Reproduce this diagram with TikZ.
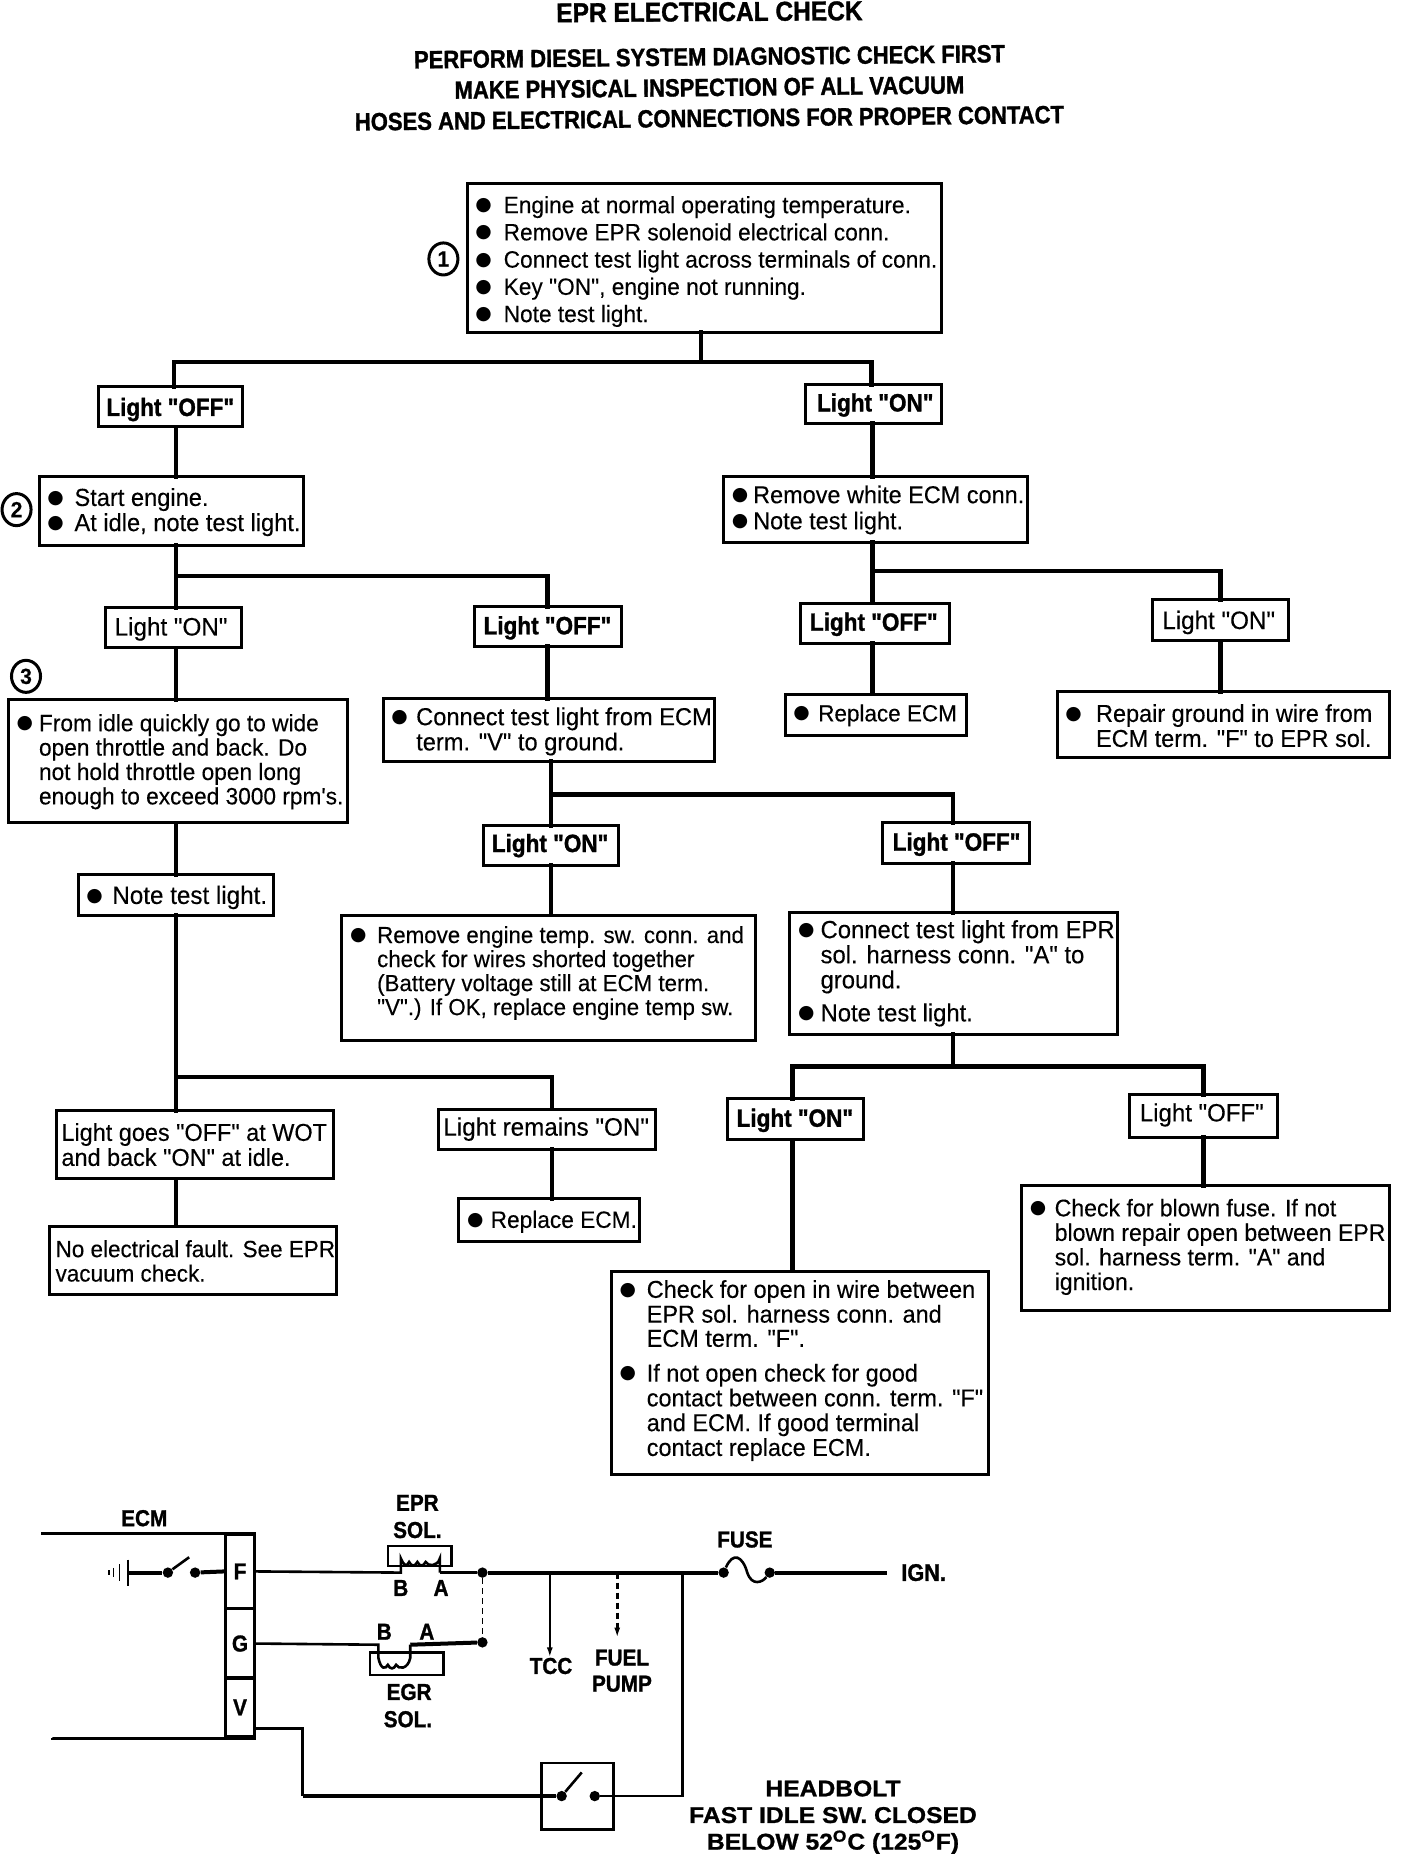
\documentclass[tikz,border=0pt]{standalone}
\usepackage{fontspec}
\newfontfamily\bodyf{Liberation Sans}[FakeStretch=0.96,FakeBold=0.25]
\newfontfamily\hd{Liberation Sans Bold}[FakeStretch=0.88,FakeBold=1.2]
\newfontfamily\hdw{Liberation Sans Bold}[FakeStretch=0.9,FakeBold=1.2]
\newfontfamily\hdx{Liberation Sans Bold}[FakeStretch=1.08,FakeBold=1]
\newfontfamily\djvf{DejaVu Sans}
\usetikzlibrary{shapes.geometric,arrows.meta}
\newlength\unitu \setlength\unitu{0.5906pt}
\newcommand\bul{\makebox[0pt][c]{\raisebox{1.3pt}{\djvf\fontsize{9.4}{9}\selectfont ●}}}
\def\txi{0}
\def\vsh{1.2pt}
% bullet hung to the left of the text column, centred 14 units from the box edge
\newcommand\bl{\makebox[0pt][r]{\bul\hspace{\dimexpr\txi\unitu-14\unitu\relax}}}
\newcommand\lab[1]{{\hdw\fontsize{12.5}{13}\selectfont #1}}
\tikzset{
  x=0.5906pt,y=-0.5906pt,
  boxsh/.style={draw,line width=1.5pt,inner sep=0pt,outer sep=0pt,font=\bodyf},
  conn/.style={line width=2.3pt,line cap=rect},
  wire/.style={line width=1.3pt},
  hwire/.style={line width=2pt},
  head/.style={font=\hd\fontsize{12.5}{13}\selectfont,rotate=0.6,inner sep=0pt},
  ttl/.style={font=\hdw\fontsize{13.6}{14}\selectfont,rotate=0.4,inner sep=0pt},
  sch/.style={font=\hdw\fontsize{11.5}{12}\selectfont,inner sep=0pt},
  dotn/.style={circle,fill,inner sep=0pt,minimum size=5.2pt},
  num/.style={draw,line width=1.5pt,ellipse,inner sep=0pt,minimum width=14.5pt,minimum height=16pt,font=\bodyf\bfseries\fontsize{11}{12}\selectfont},
  strip/.style={draw,line width=1.5pt,minimum width={24*0.5906pt},inner sep=0pt,sch},
}
% \bx{name}{x1}{y1}{x2}{y2}{size}{leading}{text indent}{lines}; \vsh lowers the text, and is reset after each box
\newcommand\bx[9]{\def\txi{#8}\pgfmathsetlengthmacro\bw{(#4-#2)*0.5906pt}\pgfmathsetlengthmacro\bh{(#5-#3)*0.5906pt}%
\node[boxsh,anchor=north west,minimum width=\bw,minimum height=\bh] (#1) at (#2,#3) {\makebox[\bw][l]{\fontsize{#6}{#7}\selectfont\raisebox{-\vsh}[\height][\depth]{\begin{tabular}{@{\hspace{#8\unitu}}l@{}}#9\end{tabular}}}};\def\vsh{1.2pt}}
\begin{document}
\begin{tikzpicture}
\useasboundingbox (0,0) rectangle (1191,1568);
\node[ttl] (t0) at (600,10) {EPR ELECTRICAL CHECK};
\node[head] (t1) at (600,48) {PERFORM DIESEL SYSTEM DIAGNOSTIC CHECK FIRST};
\node[head] (t2) at (600,74) {MAKE PHYSICAL INSPECTION OF ALL VACUUM};
\node[head] (t3) at (600,100) {HOSES AND ELECTRICAL CONNECTIONS FOR PROPER CONTACT};
% boxes
\def\vsh{2.2pt}
\bx{b1}{395}{155}{796}{281}{11.8}{13.6}{31}{\bl Engine at normal operating temperature.\\\bl Remove EPR solenoid electrical conn.\\\bl Connect test light across terminals of conn.\\\bl Key "ON", engine not running.\\\bl Note test light.}
\node[num] (n1) at (375,219) {1};
\def\vsh{2pt}
\bx{l1off}{83}{327}{205}{361}{12}{13}{7}{\lab{Light "OFF"}}
\bx{l1on}{681}{325}{796}{358}{12}{13}{10}{\lab{Light "ON"}}
\bx{b2}{33}{403}{257}{461}{12.3}{12.1}{30}{\bl Start engine.\\\bl At idle, note test light.}
\node[num] (n2) at (14,431) {2};
\def\vsh{0.7pt}
\bx{b3}{612}{403}{869}{459}{12.2}{13}{25}{\bl Remove white ECM conn.\\\bl Note test light.}
\bx{l2on}{89}{514}{204}{548}{12.6}{13}{8}{Light "ON"}
\bx{l2off}{401}{513}{526}{547}{12}{13}{8}{\lab{Light "OFF"}}
\bx{l3off}{677}{510}{803}{544}{12}{13}{8}{\lab{Light "OFF"}}
\def\vsh{1.8pt}
\bx{l3on}{975}{507}{1090}{542}{12.6}{13}{8}{Light "ON"}
\node[num] (n3) at (22,572) {3};
\def\vsh{0.7pt}
\bx{b4}{7}{592}{294}{696}{11.8}{12.1}{26}{\bl From idle quickly go to wide\\open throttle and back. Do\\not hold throttle open long\\enough to exceed 3000 rpm's.}
\bx{b5}{324}{591}{604}{644}{12.3}{12.2}{28}{\bl Connect test light from ECM\\term. "V" to ground.}
\def\vsh{0.7pt}
\bx{b6}{664}{587}{817}{622}{11.7}{13}{28}{\bl Replace ECM}
\def\vsh{2.2pt}
\bx{b7}{894}{585}{1175}{641}{12.2}{12.2}{33}{\bl Repair ground in wire from\\ECM term. "F" to EPR sol.}
\def\vsh{0.7pt}
\bx{l4on}{409}{698}{523}{732}{12}{13}{7}{\lab{Light "ON"}}
\bx{l4off}{746}{696}{871}{730}{12}{13}{9}{\lab{Light "OFF"}}
\def\vsh{1.8pt}
\bx{b8}{66}{740}{231}{774}{12.6}{13}{29}{\bl Note test light.}
\def\vsh{-1.8pt}
\bx{b9}{289}{774}{639}{880}{11.6}{12}{30}{\bl Remove engine temp. sw. conn. and\\check for wires shorted together\\(Battery voltage still at ECM term.\\"V".) If OK, replace engine temp sw.}
\def\vsh{0.3pt}
\bx{b10}{668}{772}{945}{875}{12.4}{11.8}{26}{\bl Connect test light from EPR\\sol. harness conn. "A" to\\ground.\\[4pt]\bl Note test light.}
\bx{l5on}{615}{929}{730}{964}{12}{13}{8}{\lab{Light "ON"}}
\def\vsh{0pt}
\bx{l5off}{955}{926}{1080}{962}{12.5}{13}{9}{Light "OFF"}
\def\vsh{1.8pt}
\bx{l6}{48}{939}{282}{997}{12.2}{12.2}{4}{Light goes "OFF" at WOT\\and back "ON" at idle.}
\def\vsh{0.6pt}
\bx{l7}{371}{938}{554}{972}{12.6}{13}{4}{Light remains "ON"}
\def\vsh{2pt}
\bx{b11}{42}{1037}{285}{1095}{11.7}{12.2}{5}{No electrical fault. See EPR\\vacuum check.}
\bx{b12}{388}{1014}{541}{1050}{11.8}{13}{27}{\bl Replace ECM.}
\def\vsh{-0.6pt}
\bx{b13}{517}{1075}{836}{1247}{12.2}{11.8}{30}{\bl Check for open in wire between\\EPR sol. harness conn. and\\ECM term. "F".\\[5pt]\bl If not open check for good\\contact between conn. term. "F"\\and ECM. If good terminal\\contact replace ECM.}
\def\vsh{0pt}
\bx{b14}{864}{1003}{1175}{1108}{12}{11.9}{28}{\bl Check for blown fuse. If not\\blown repair open between EPR\\sol. harness term. "A" and\\ignition.}
% connectors
\coordinate (j1) at (593,306);
\draw[conn] (b1.south -| j1) -- (j1);
\coordinate (j1l) at (147,306); \coordinate (j1r) at (737,306);
\draw[conn] (l1off.north -| j1l) -- (j1l) -- (j1r) -- (l1on.north -| j1r);
\coordinate (v2) at (149,400);
\draw[conn] (l1off.south -| v2) -- (b2.north -| v2);
\coordinate (j2) at (149,487); \coordinate (j2r) at (463,487);
\draw[conn] (b2.south -| j2) -- (l2on.north -| j2);
\draw[conn] (j2) -- (j2r) -- (l2off.north -| j2r);
\draw[conn] (l2on.south -| j2) -- (b4.north -| j2);
\draw[conn] (l2off.south -| j2r) -- (b5.north -| j2r);
\coordinate (j3) at (738,483); \coordinate (j3r) at (1032,483);
\draw[conn] (l1on.south -| j3) -- (b3.north -| j3);
\draw[conn] (b3.south -| j3) -- (l3off.north -| j3);
\draw[conn] (j3) -- (j3r) -- (l3on.north -| j3r);
\draw[conn] (l3off.south -| j3) -- (b6.north -| j3);
\draw[conn] (l3on.south -| j3r) -- (b7.north -| j3r);
\coordinate (j4) at (466,672); \coordinate (j4r) at (806,672);
\draw[conn] (b5.south -| j4) -- (l4on.north -| j4);
\draw[conn] (j4) -- (j4r) -- (l4off.north -| j4r);
\draw[conn] (l4on.south -| j4) -- (b9.north -| j4);
\draw[conn] (l4off.south -| j4r) -- (b10.north -| j4r);
\coordinate (j5) at (149,911); \coordinate (j5r) at (467,911);
\draw[conn] (b4.south -| j5) -- (b8.north -| j5);
\draw[conn] (b8.south -| j5) -- (l6.north -| j5);
\draw[conn] (j5) -- (j5r) -- (l7.north -| j5r);
\draw[conn] (l6.south -| j5) -- (b11.north -| j5);
\draw[conn] (l7.south -| j5r) -- (b12.north -| j5r);
\coordinate (j6) at (806,902); \coordinate (j6l) at (670,902); \coordinate (j6r) at (1018,902);
\draw[conn] (b10.south -| j6) -- (j6);
\draw[conn] (l5on.north -| j6l) -- (j6l) -- (j6r) -- (l5off.north -| j6r);
\draw[conn] (l5on.south -| j6l) -- (b13.north -| j6l);
\draw[conn] (l5off.south -| j6r) -- (b14.north -| j6r);
% schematic: ECM connector
\node[strip,minimum height={62*0.5906pt}] (F) at (203,1329) {F};
\node[strip,minimum height={59*0.5906pt}] (G) at (203,1390) {G};
\node[strip,minimum height={50*0.5906pt}] (V) at (203,1444) {V};
\node[sch] (ecm) at (122,1284) {ECM};
\coordinate (et) at (36,1298); \coordinate (eb) at (44,1470);
\draw[line width=1.5pt] (et) -- (F.north west -| et) -- (F.north east);
\draw[line width=1.5pt] (eb) -- (V.south west -| eb) -- (V.south east);
% ground + ECM switch
\coordinate (g0) at (108,1330);
\draw[line width=1pt] (108,1319) -- (108,1341);
\draw[line width=.8pt] (101,1323) -- (101,1337) (96,1326) -- (96,1334) (92,1328) -- (92,1332);
\node[dotn] (s1) at (142,1330) {};
\node[dotn] (s2) at (165,1330) {};
\coordinate (s1b) at (160,1317);
\draw[hwire] (g0) -- (s1);
\draw[line width=1.3pt] (s1) -- (s1b);
\draw[hwire] (s2) -- (F.west);
% EPR sol
\node[draw,line width=1.2pt,minimum width={54*0.5906pt},minimum height={17*0.5906pt},inner sep=0pt] (epr) at (355,1316) {};
\coordinate (eprB) at (339,1330); \coordinate (eprA) at (372,1330);
\draw[wire] (F.east) -- (eprB) -- (339,1318) .. controls (342,1325) and (344,1325) .. (346,1321) .. controls (348,1325) and (351,1325) .. (353,1321) .. controls (355,1325) and (358,1325) .. (360,1321) .. controls (362,1325) and (370,1325) .. (372,1318) -- (eprA);
\node[sch] (eprl1) at (353,1271) {EPR};
\node[sch] (eprl2) at (353,1294) {SOL.};
\node[sch] at (339,1343) {B};
\node[sch] at (373,1343) {A};
% main wire
\node[dotn] (d1) at (408,1330) {};
\node[dotn] (d2) at (408,1389) {};
\node[dotn] (f1) at (612,1330) {};
\node[dotn] (f2) at (651,1330) {};
\node[sch,anchor=west,font=\hdw\fontsize{12}{13}\selectfont] (ign) at (762,1330) {IGN.};
\coordinate (ignw) at (750,1330);
\draw[wire] (eprA) -- (d1);
\draw[hwire] (d1) -- (f1);
\draw[wire] (f1) .. controls (620,1312) and (628,1316) .. (632,1330) .. controls (636,1342) and (645,1338) .. (f2);
\draw[hwire] (f2) -- (ignw);
\draw[densely dashed,line width=.9pt] (d1) -- (d2);
\node[sch] at (630,1302) {FUSE};
% EGR sol
\node[draw,line width=1.2pt,minimum width={62*0.5906pt},minimum height={19*0.5906pt},inner sep=0pt] (egr) at (344,1407) {};
\coordinate (egrB) at (320,1391); \coordinate (egrA) at (347,1391);
\draw[wire] (G.east) -- (egrB) -- (320,1402) .. controls (322,1412) and (326,1412) .. (328,1408) .. controls (330,1412) and (333,1412) .. (335,1408) .. controls (337,1412) and (345,1412) .. (347,1402) -- (egrA);
\draw[hwire] (egrA) -- (d2);
\node[sch] at (325,1380) {B};
\node[sch] at (361,1380) {A};
\node[sch] at (346,1431) {EGR};
\node[sch] at (345,1454) {SOL.};
% branches
\coordinate (tcc0) at (465,1330); \coordinate (pp0) at (522,1330); \coordinate (hb0) at (577,1330);
\coordinate (ppe) at (522,1385);
\node[sch] (tcc) at (466,1409) {TCC};
\node[sch,align=center,font=\hdw\fontsize{11.5}{13}\selectfont] (pump) at (526,1413) {FUEL\\PUMP};
\draw[wire,-{Latex[length=5pt,width=3pt]}] (tcc0) -- (tcc.north -| tcc0) ;
\draw[wire,densely dashed,-{Latex[length=5pt,width=3pt]}] (pp0) -- (ppe);
% headbolt switch
\node[draw,line width=1.4pt,minimum width={61*0.5906pt},minimum height={56*0.5906pt},inner sep=0pt] (hb) at (488.5,1519) {};
\node[dotn] (h1) at (475,1519) {};
\node[dotn] (h2) at (503,1519) {};
\coordinate (h1b) at (492,1499);
\coordinate (vj) at (256,1462); \coordinate (vk) at (256,1519); \coordinate (hbk) at (577,1519);
\draw[line width=1.3pt] (h1) -- (h1b);
\draw[wire] (V.east |- vj) -- (vj) -- (vk);
\draw[hwire] (vk) -- (h1);
\draw[wire] (h2) -- (hbk) -- (hb0);
\node[sch,align=center,font=\hdx\fontsize{11.4}{13.3}\selectfont] (hbt) at (704.5,1537) {HEADBOLT\\FAST IDLE SW. CLOSED\\BELOW 52\textsuperscript{O}C (125\textsuperscript{O}F)};
\end{tikzpicture}
\end{document}
